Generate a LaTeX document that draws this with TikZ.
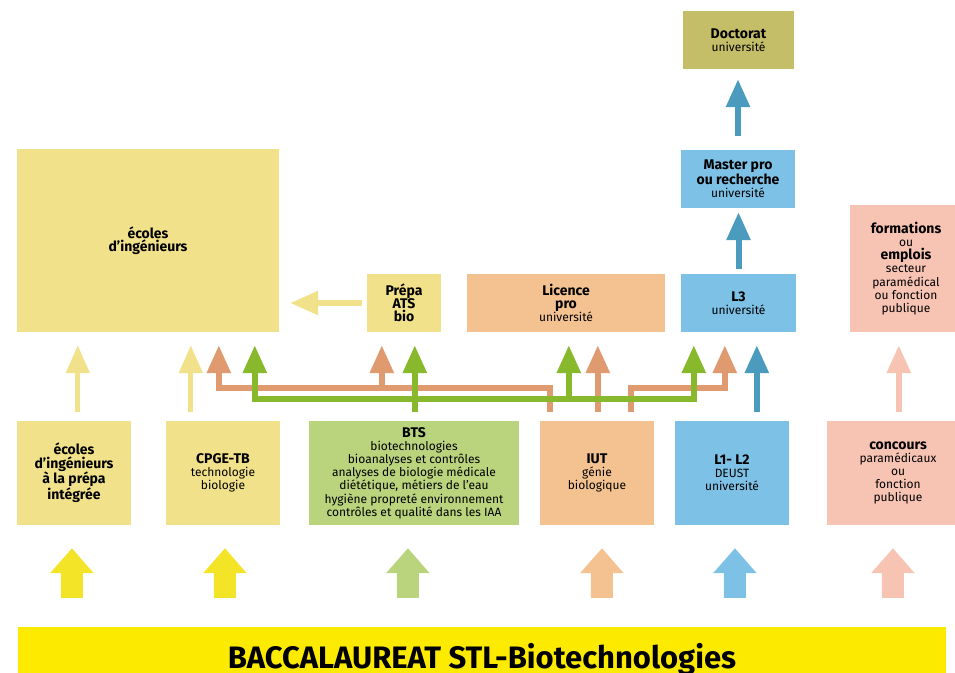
\documentclass[tikz,border=0pt]{standalone}
\usepackage{fontspec}
\setmainfont{Fira Sans}
\usepackage{xcolor}
\usepackage{tikz}
\usetikzlibrary{positioning, arrows.meta, calc}
\definecolor{stlPale}{RGB}{240, 225, 138}
\definecolor{stlOlive}{RGB}{197, 190, 104}
\definecolor{stlSky}{RGB}{125, 193, 230}
\definecolor{stlTan}{RGB}{243, 194, 144}
\definecolor{stlPink}{RGB}{247, 196, 180}
\definecolor{stlLeaf}{RGB}{186, 212, 126}
\definecolor{stlGrass}{RGB}{136, 185, 45}
\definecolor{stlCopper}{RGB}{223, 154, 112}
\definecolor{stlSteel}{RGB}{74, 155, 189}
\definecolor{stlLemon}{RGB}{243, 228, 40}
\definecolor{stlBanner}{RGB}{252, 234, 0}
\newcommand{\titre}[1]{{\fontsize{14}{13.2}\selectfont\bfseries #1}}
\tikzset{
    base/.style={
        font=\fontsize{12}{13.2}\selectfont,
        align=center,
        text=black
    },
    box/.style={
        base,
        rectangle,
        inner sep=0pt,
        minimum height=58pt
    },
    lowbox/.style={
        box,
        minimum width=114pt,
        minimum height=104pt
    },
    flow/.style={
        ->,
        >={Triangle[width=23pt, length=28pt]},
        line width=6pt,
        shorten <=9pt,
        shorten >=13pt
    },
    big/.style={
        ->,
        >={Triangle[width=42pt, length=25pt]},
        line width=22pt,
        shorten <=29pt,
        shorten >=23pt
    }
}

\begin{document}
\begin{tikzpicture}[x=1pt, y=-1pt]
  \useasboundingbox (0,0) rectangle (955,672);
  \clip (0,0) rectangle (955,672);

  % Upper row
  \node[box, minimum width=262pt, minimum height=183pt, fill=stlPale] (ecoles) at (148,240.5) {\titre{écoles}\\\titre{d’ingénieurs}};
  \node[box, minimum width=74pt, fill=stlPale] (prepa) at (404,303) {\titre{Prépa}\\\titre{ATS}\\\titre{bio}};
  \node[box, minimum width=198pt, fill=stlTan] (licence) at (566,303) {\titre{Licence}\\\titre{pro}\\université};
  \node[box, minimum width=115pt, fill=stlSky] (ltrois) at (738.5,303) {\titre{L3}\\université};
  \node[box, minimum width=114pt, fill=stlSky] (master) at (738,179) {\titre{Master pro}\\\titre{ou recherche}\\université};
  \node[box, minimum width=111pt, fill=stlOlive] (doctorat) at (738.5,40) {\titre{Doctorat}\\université};
  \node[box, minimum width=112pt, minimum height=127pt, fill=stlPink] (formations) at (906,268.5) {\titre{formations}\\ou\\\titre{emplois}\\secteur\\paramédical\\ou fonction\\publique};

  % Lower row
  \node[lowbox, fill=stlPale] (integree) at (74,473) {\titre{écoles}\\\titre{d’ingénieurs}\\\titre{à la prépa}\\\titre{intégrée}};
  \node[lowbox, fill=stlPale] (cpge) at (223,473) {\titre{CPGE-TB}\\technologie\\biologie};
  \node[lowbox, minimum width=210pt, fill=stlLeaf] (bts) at (414,473) {\titre{BTS}\\biotechnologies\\bioanalyses et contrôles\\analyses de biologie médicale\\diététique, métiers de l’eau\\hygiène propreté environnement\\contrôles et qualité dans les IAA};
  \node[lowbox, fill=stlTan] (iut) at (597,473) {\titre{IUT}\\génie\\biologique};
  \node[lowbox, fill=stlSky] (licdeux) at (732,473) {\titre{L1- L2}\\DEUST\\université};
  \node[lowbox, minimum width=142pt, fill=stlPink] (concours) at (898,473) {\titre{concours}\\paramédicaux\\ou\\fonction\\publique};

  % Baccalaureat
  \node[base, minimum width=928pt, minimum height=66pt, inner sep=0pt, text height=22pt, text depth=6pt, fill=stlBanner, font=\fontsize{31}{34}\selectfont\bfseries] (bac) at (482,660) {BACCALAUREAT STL-Biotechnologies};

  % Rails
  \coordinate (orail) at ([xshift=10pt, yshift=33pt]iut.north west);
  \coordinate (grail) at ([xshift=106pt, yshift=22pt]bts.north west);

  % University track
  \draw[flow, stlSteel, shorten <=14pt, shorten >=10pt] (master.north) -- (master.north |- doctorat.south);
  \draw[flow, stlSteel, shorten <=5pt, shorten >=4pt] (ltrois.north) -- (ltrois.north |- master.south);
  \draw[flow, stlPale, line width=5.5pt, shorten <=5pt, shorten >=11pt] (prepa.west) -- (prepa.west -| ecoles.east);

  % Connections
  \draw[flow, stlPale, line width=5pt] ([xshift=61pt]integree.north west) -- ([xshift=61pt]ecoles.south west);
  \draw[flow, stlPale, line width=5pt] ([xshift=25pt]cpge.north west) -- ([xshift=174pt]ecoles.south west);

  \draw[flow, stlCopper] ([xshift=10pt]iut.north west) -- (orail) -| ([xshift=202pt]ecoles.south west);
  \draw[flow, stlCopper, shorten <=0pt] ([xshift=-168pt]orail) -- ([xshift=15pt]prepa.south west);
  \draw[flow, stlCopper] ([xshift=58pt]iut.north west) -- ([xshift=131pt]licence.south west);
  \draw[flow, stlCopper] ([xshift=91pt]iut.north west) -- ([xshift=81pt]orail) -| ([xshift=44pt]ltrois.south west);

  \draw[flow, <->, stlGrass, shorten <=13pt] ([xshift=238pt]ecoles.south west) |- (grail) -| ([xshift=13pt]ltrois.south west);
  \draw[flow, stlGrass] ([xshift=106pt]bts.north west) -- ([xshift=48pt]prepa.south west);
  \draw[flow, stlGrass, shorten <=0pt] ([xshift=154pt]grail) -- ([xshift=102pt]licence.south west);

  \draw[flow, stlSteel] ([xshift=82pt]licdeux.north west) -- ([xshift=76pt]ltrois.south west);
  \draw[flow, stlPink] ([xshift=72pt]concours.north west) -- ([xshift=49pt]formations.south west);

  % Entry arrows
  \draw[big, stlLemon] ([xshift=54pt]bac.north west) -- ([xshift=-2pt]integree.south);
  \draw[big, stlLemon] ([xshift=207pt]bac.north west) -- ([xshift=2pt]cpge.south);
  \draw[big, stlLeaf] ([xshift=390pt]bac.north west) -- ([xshift=-6pt]bts.south);
  \draw[big, stlTan] ([xshift=584pt]bac.north west) -- ([xshift=5pt]iut.south);
  \draw[big, stlSky] ([xshift=717pt]bac.north west) -- ([xshift=3pt]licdeux.south);
  \draw[big, stlPink] ([xshift=875pt]bac.north west) -- ([xshift=-5pt]concours.south);
\end{tikzpicture}
\end{document}
